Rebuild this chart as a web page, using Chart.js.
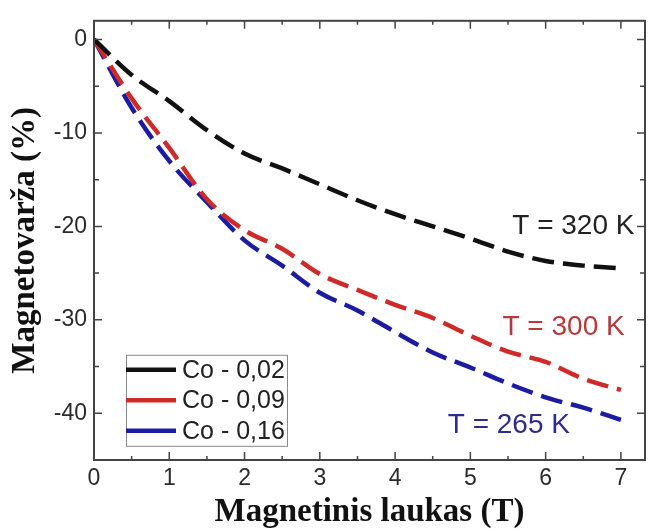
<!DOCTYPE html>
<html>
<head>
<meta charset="utf-8">
<script src="https://cdn.jsdelivr.net/npm/chart.js@4.4.1/dist/chart.umd.min.js"></script>
<style>
  html, body { margin: 0; padding: 0; background: #fff; }
  #wrap { width: 651px; height: 531px; }
</style>
</head>
<body>
<div id="wrap"><canvas id="mrChart"></canvas></div>
<script>
// field values (T) and magnetoresistance (%)
const fieldT  = [0, 0.5, 1, 1.5, 2, 2.5, 3, 3.5, 4, 4.5, 5, 5.5, 6, 6.5, 7];
const mrCo002 = [0, -3.8, -6.6, -9.7, -12.2, -13.8, -15.5, -17.2, -18.7, -20.0, -21.3, -22.7, -23.7, -24.2, -24.5];
const mrCo009 = [0, -6.3, -11.6, -17.1, -20.4, -22.4, -25.1, -26.8, -28.4, -29.8, -31.7, -33.4, -34.5, -36.3, -37.5];
const mrCo016 = [0, -7.3, -13.0, -17.4, -21.5, -24.2, -27.1, -29.0, -31.3, -33.5, -35.1, -36.8, -38.3, -39.4, -40.7];
const seriesLabels = ['Co - 0,02', 'Co - 0,09', 'Co - 0,16'];
const seriesColors = ['#111111', '#cf2a2a', '#1c1ca0'];
const tempLabels = ['T = 320 K', 'T = 300 K', 'T = 265 K'];
const tempColors = ['#222222', '#b43a3a', '#2c2c8a'];
const xTicks = [0, 1, 2, 3, 4, 5, 6, 7];
const xMinor = [0.5, 1.5, 2.5, 3.5, 4.5, 5.5, 6.5];
const yTicks = [-40, -30, -20, -10, 0];
const yMinor = [-35, -25, -15, -5];

const toPts = ys => ys.map((v, i) => ({x: fieldT[i], y: v}));
const allSeries = [mrCo002, mrCo009, mrCo016];

// box + inward ticks on all four sides
const frameTicks = {
  id: 'frameTicks',
  afterDatasetsDraw(chart) {
    const {ctx, chartArea: a, scales: {x, y}} = chart;
    ctx.save();
    ctx.strokeStyle = '#444';
    ctx.lineWidth = 2;
    ctx.strokeRect(a.left, a.top, a.right - a.left, a.bottom - a.top);
    ctx.lineWidth = 1.5;
    ctx.beginPath();
    const xt = (v, len) => {
      const px = x.getPixelForValue(v);
      ctx.moveTo(px, a.bottom); ctx.lineTo(px, a.bottom - len);
      ctx.moveTo(px, a.top); ctx.lineTo(px, a.top + len);
    };
    const yt = (v, len) => {
      const py = y.getPixelForValue(v);
      ctx.moveTo(a.left, py); ctx.lineTo(a.left + len, py);
      ctx.moveTo(a.right, py); ctx.lineTo(a.right - len, py);
    };
    xTicks.forEach(v => xt(v, 8));
    xMinor.forEach(v => xt(v, 4));
    yTicks.forEach(v => yt(v, 8));
    yMinor.forEach(v => yt(v, 5));
    ctx.stroke();
    ctx.restore();
  }
};

// legend box inside the plot and temperature labels
const notes = {
  id: 'notes',
  afterDraw(chart) {
    const {ctx, chartArea: a, scales: {x, y}} = chart;
    ctx.save();
    const bx = a.left + 32, by = a.top + 334, bw = 161, bh = 91;
    ctx.fillStyle = '#fff';
    ctx.fillRect(bx, by, bw, bh);
    ctx.strokeStyle = '#8a8a8a';
    ctx.lineWidth = 1;
    ctx.strokeRect(bx + 0.5, by + 0.5, bw, bh);
    ctx.font = '25px "Liberation Sans", Arial, sans-serif';
    ctx.textBaseline = 'middle';
    ctx.textAlign = 'left';
    seriesLabels.forEach((lab, i) => {
      const ly = by + 15 + i * 30.5;
      ctx.strokeStyle = seriesColors[i];
      ctx.lineWidth = 4.5;
      ctx.beginPath();
      ctx.moveTo(bx, ly); ctx.lineTo(bx + 50, ly);
      ctx.stroke();
      ctx.fillStyle = '#222';
      ctx.fillText(lab, bx + 56, ly + 1);
    });

    ctx.font = '28px "Liberation Sans", Arial, sans-serif';
    ctx.fillStyle = tempColors[0];
    ctx.textAlign = 'right';
    ctx.fillText(tempLabels[0], x.getPixelForValue(7.18), y.getPixelForValue(-20.0));
    ctx.fillStyle = tempColors[1];
    ctx.fillText(tempLabels[1], x.getPixelForValue(7.05), y.getPixelForValue(-30.8));
    ctx.fillStyle = tempColors[2];
    ctx.textAlign = 'left';
    ctx.fillText(tempLabels[2], x.getPixelForValue(4.70), y.getPixelForValue(-41.3));
    ctx.restore();
  }
};

const titleFont = {family: '"Liberation Serif", "Times New Roman", serif', size: 33, weight: 'bold'};
const tickFont = {family: '"Liberation Sans", Arial, sans-serif', size: 23};

new Chart(document.getElementById('mrChart'), {
  type: 'line',
  data: {
    datasets: allSeries.map((s, i) => ({
      label: seriesLabels[i],
      data: toPts(s),
      borderColor: seriesColors[i],
      borderWidth: 4.5,
      borderDash: [22, 9],
      pointRadius: 0,
      cubicInterpolationMode: 'monotone',
      fill: false
    }))
  },
  options: {
    responsive: true,
    maintainAspectRatio: false,
    animation: false,
    layout: {padding: {left: 0, right: 6, top: 13, bottom: 0}},
    plugins: {legend: {display: false}, tooltip: {enabled: false}},
    scales: {
      x: {
        type: 'linear',
        min: 0, max: 7.32,
        afterBuildTicks: s => { s.ticks = xTicks.map(v => ({value: v})); },
        afterFit: s => { s.height = 71; },
        grid: {display: false, drawTicks: false},
        border: {display: false},
        ticks: {font: tickFont, color: '#2a2a2a', padding: 5},
        title: {display: true, text: 'Magnetinis laukas (T)', font: titleFont, color: '#111', padding: {top: 0, bottom: -1}}
      },
      y: {
        type: 'linear',
        min: -45, max: 2,
        afterBuildTicks: s => { s.ticks = yTicks.map(v => ({value: v})); },
        afterFit: s => { s.width = 94; },
        grid: {display: false, drawTicks: false},
        border: {display: false},
        ticks: {font: tickFont, color: '#2a2a2a', padding: 7},
        title: {display: true, text: 'Magnetovarža (%)', font: titleFont, color: '#111', padding: {top: 6, bottom: 0}}
      }
    }
  },
  plugins: [frameTicks, notes]
});
</script>
</body>
</html>
